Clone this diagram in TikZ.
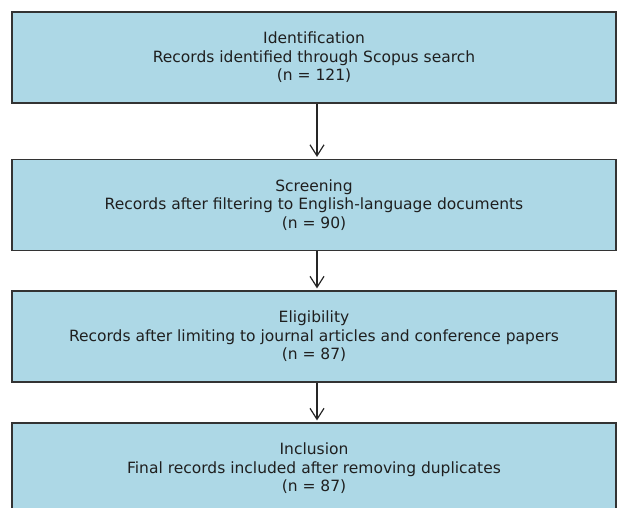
\documentclass[tikz,border=0pt]{standalone}
\usepackage{fontspec}
\setmainfont{DejaVu Sans}
\usetikzlibrary{positioning, arrows.meta}

\definecolor{boxblue}{RGB}{173,216,230}

\begin{document}
\begin{tikzpicture}[x=1pt, y=-1pt,
  stagebox/.style={draw=black!80, line width=1.2pt, fill=boxblue,
    minimum width=604pt, minimum height=91pt, inner sep=0pt,
    align=center, text=black!88, font=\fontsize{15.5}{18.5}\selectfont},
  flowarrow/.style={-{Straight Barb[length=11pt, width=14pt]},
    line width=1.2pt, black!85, shorten >=2pt}]
\def\midx{314}
\def\arrx{3pt}
\clip (0,0) rectangle (617,507);

\node[stagebox] (ident) at (\midx,57.5)
  {Identification\\Records identified through Scopus search\\(n = 121)};
\node[stagebox] (screen) at (\midx,205)
  {Screening\\Records after filtering to English-language documents\\(n = 90)};
\node[stagebox] (elig) at (\midx,336.5)
  {Eligibility\\Records after limiting to journal articles and conference papers\\(n = 87)};
\node[stagebox] (incl) at (\midx,468.5)
  {Inclusion\\Final records included after removing duplicates\\(n = 87)};

\draw[flowarrow] ([xshift=\arrx]ident.south) -- ([xshift=\arrx]screen.north);
\draw[flowarrow] ([xshift=\arrx]screen.south) -- ([xshift=\arrx]elig.north);
\draw[flowarrow] ([xshift=\arrx]elig.south) -- ([xshift=\arrx]incl.north);
\end{tikzpicture}
\end{document}
